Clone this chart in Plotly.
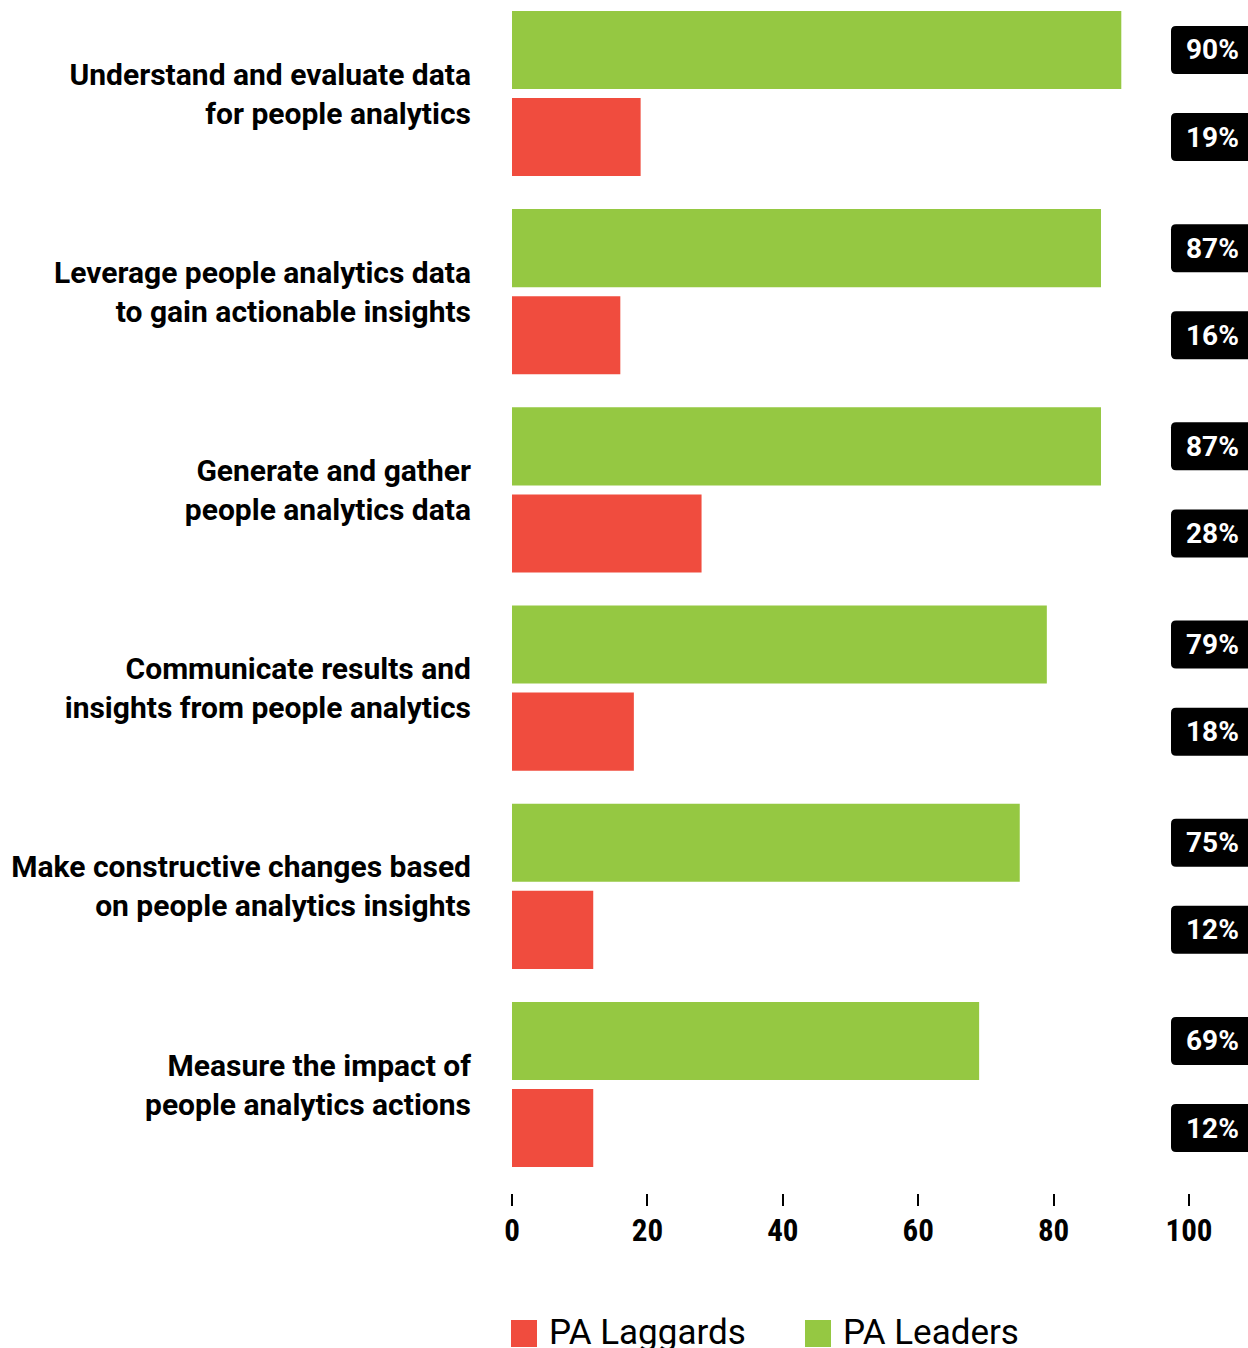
import plotly.graph_objects as go

# Survey data: share of respondents (%) reporting each capability
categories = [
    "Understand and evaluate data<br>for people analytics",
    "Leverage people analytics data<br>to gain actionable insights",
    "Generate and gather<br>people analytics data",
    "Communicate results and<br>insights from people analytics",
    "Make constructive changes based<br>on people analytics insights",
    "Measure the impact of<br>people analytics actions",
]
leaders = [90, 87, 87, 79, 75, 69]
laggards = [19, 16, 28, 18, 12, 12]
x_ticks = [0, 20, 40, 60, 80, 100]

GREEN = "#95c842"
RED = "#f04c3e"
FONT = "Roboto, 'Noto Sans', Arial, sans-serif"
NARROW = "'Roboto Condensed', 'Liberation Sans Narrow', Roboto, sans-serif"

W, H = 1248, 1348
ML, MR, MT, MB = 512, 59, 0, 155
PLOT_W = W - ML - MR
PLOT_H = H - MT - MB
BARGAP = 0.121
GROUPGAP = 0.103

pos = list(range(len(categories)))

fig = go.Figure()
fig.add_trace(go.Bar(name="PA Leaders", y=pos, x=leaders, orientation="h",
                     marker=dict(color=GREEN, line=dict(width=0)), showlegend=False))
fig.add_trace(go.Bar(name="PA Laggards", y=pos, x=laggards, orientation="h",
                     marker=dict(color=RED, line=dict(width=0)), showlegend=False))

# y-range so that the first group sits near the top of the plot area
pitch = 198.2
y_top = -93.5 / pitch
y_bot = y_top + PLOT_H / pitch

# value badges: rounded black tags at the right edge, aligned to bar centres
slot = (1 - BARGAP) / 2
offset = slot / 2
half_h = 24 / pitch
rx = 5 / PLOT_W
ry = 5 / pitch
bx0 = (1171 - ML) / PLOT_W
bx1 = (1275 - ML) / PLOT_W
tx = (1212.5 - ML) / PLOT_W

shapes = []
annotations = []
for i in pos:
    for val, off in ((leaders[i], -offset), (laggards[i], offset)):
        yc = i + off
        y0, y1 = yc - half_h, yc + half_h
        path = (f"M{bx0 + rx},{y0} L{bx1},{y0} L{bx1},{y1} L{bx0 + rx},{y1} "
                f"Q{bx0},{y1} {bx0},{y1 - ry} L{bx0},{y0 + ry} Q{bx0},{y0} {bx0 + rx},{y0} Z")
        shapes.append(dict(type="path", xref="paper", yref="y", path=path,
                           fillcolor="black", line=dict(width=0)))
        annotations.append(dict(xref="paper", yref="y", x=tx, y=yc, text=f"{val}%",
                                showarrow=False, xanchor="center", yanchor="middle",
                                font=dict(family=FONT, size=28, color="white", weight="bold")))

# legend drawn as square swatches with labels below the axis
def px_x(p):
    return (p - ML) / PLOT_W

def px_y(p):
    return (MT + PLOT_H - p) / PLOT_H

for name, color, sx in (("PA Laggards", RED, 511), ("PA Leaders", GREEN, 805)):
    shapes.append(dict(type="rect", xref="paper", yref="paper",
                       x0=px_x(sx), x1=px_x(sx + 26), y0=px_y(1347), y1=px_y(1320),
                       fillcolor=color, line=dict(width=0)))
    annotations.append(dict(xref="paper", yref="paper", x=px_x(sx + 36), y=px_y(1332),
                            text=name, showarrow=False, xanchor="left", yanchor="middle",
                            font=dict(family=FONT, size=35, color="black")))

fig.update_layout(
    width=W, height=H,
    margin=dict(l=ML, r=MR, t=MT, b=MB, pad=0),
    paper_bgcolor="white", plot_bgcolor="white",
    barmode="group", bargap=BARGAP, bargroupgap=GROUPGAP,
    showlegend=False,
    shapes=shapes, annotations=annotations,
    xaxis=dict(range=[0, 100], tickvals=x_ticks, ticks="outside", ticklen=12,
               tickwidth=2, tickcolor="black", showgrid=False, zeroline=False,
               showline=False, ticklabelstandoff=-2,
               tickfont=dict(family=NARROW, size=31, color="black", weight="bold")),
    yaxis=dict(range=[y_bot, y_top], tickvals=pos, ticktext=categories,
               showgrid=False, zeroline=False, showline=False, ticks="",
               ticklabelstandoff=40,
               tickfont=dict(family=FONT, size=30, color="black", weight="bold")),
)

fig.write_html("out.html")
